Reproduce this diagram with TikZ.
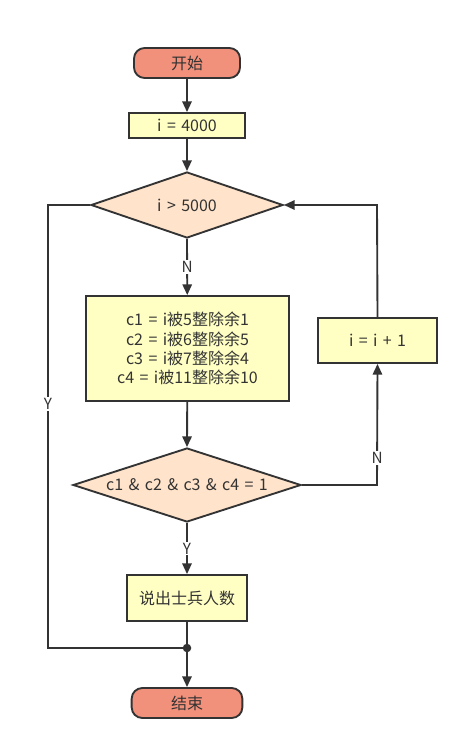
\documentclass[tikz,border=0pt]{standalone}
\usepackage{fontspec}
\setmainfont{Noto Sans CJK SC}[WordSpace=1.5]
\usetikzlibrary{shapes.geometric,arrows.meta}
\definecolor{termfill}{HTML}{F2917B}
\definecolor{procfill}{HTML}{FFFFC4}
\definecolor{decfill}{HTML}{FFE3CA}
\definecolor{linec}{HTML}{333333}
\tikzset{
  base/.style={draw=linec,line width=1.4pt,text=linec,font=\fontsize{12pt}{14.4pt}\selectfont,inner sep=0pt},
  term/.style={base,rounded corners=8pt,fill=termfill,minimum width=79.5pt,minimum height=22.5pt},
  proc/.style={base,fill=procfill},
  dec/.style={base,diamond,fill=decfill},
  conn/.style={draw=linec,line width=1.4pt,-{Triangle[length=8pt,width=7pt]}},
  plain/.style={draw=linec,line width=1.4pt},
  dtext/.style={text=linec,font=\fontsize{12pt}{14.4pt}\selectfont},
  lab/.style={fill=white,text=linec,font=\fontsize{11.5pt}{12pt}\selectfont,inner sep=1pt}
}
\begin{document}
\begin{tikzpicture}[x=0.75pt,y=-0.75pt]
\useasboundingbox (0,0) rectangle (469,749);
\node[term] (start) at (187,63) {开始};
\node[proc,minimum width=87pt,minimum height=18.75pt] (init) at (187,125.5) {i = 4000};
\node[dec,minimum width=144pt,minimum height=49.5pt,aspect=2.9] (d1) at (187,205) {};
\node[dtext] at (d1.center) {i > 5000};
\node[proc,minimum width=152pt,minimum height=78.75pt,align=center] (calc) at (187.5,348.5) {c1 = i被5整除余1\\c2 = i被6整除余5\\c3 = i被7整除余4\\c4 = i被11整除余10};
\node[dec,minimum width=171pt,minimum height=55.5pt,aspect=3.1] (d2) at (187,485) {};
\node[dtext] at (d2.center) {c1 \& c2 \& c3 \& c4 = 1};
\node[proc,minimum width=89pt,minimum height=33.75pt] (inc) at (377.5,340.5) {i = i + 1};
\node[proc,minimum width=90pt,minimum height=34.5pt] (say) at (187,598) {说出士兵人数};
\node[term,minimum width=83pt] (end) at (187,703) {结束};
\coordinate (j) at (187,648);
\coordinate (l1) at (48,205);
\coordinate (l2) at (48,648);
\coordinate (r1) at (377,205);
\coordinate (r2) at (377,485);

\draw[conn] (start) -- (init);
\draw[conn] (init) -- (d1.north);
\draw[conn] (d1.south) -- node[lab,pos=0.5] {N} (calc);
\draw[conn] (calc) -- (d2.north);
\draw[conn] (d2.south) -- node[lab,pos=0.5] {Y} (say);
\draw[plain] (say) -- (j);
\draw[conn] (j) -- (end);
\draw[plain] (d1.west) -- (l1) -- node[lab,pos=0.45] {Y} (l2) -- (j);
\fill[linec] (j) circle (3.2pt);
\draw[conn] (d2.east) -- (r2) -- node[lab,pos=0.22] {N} (inc.south);
\draw[conn] (inc.north) -- (r1) -- (d1.east);
\end{tikzpicture}
\end{document}
